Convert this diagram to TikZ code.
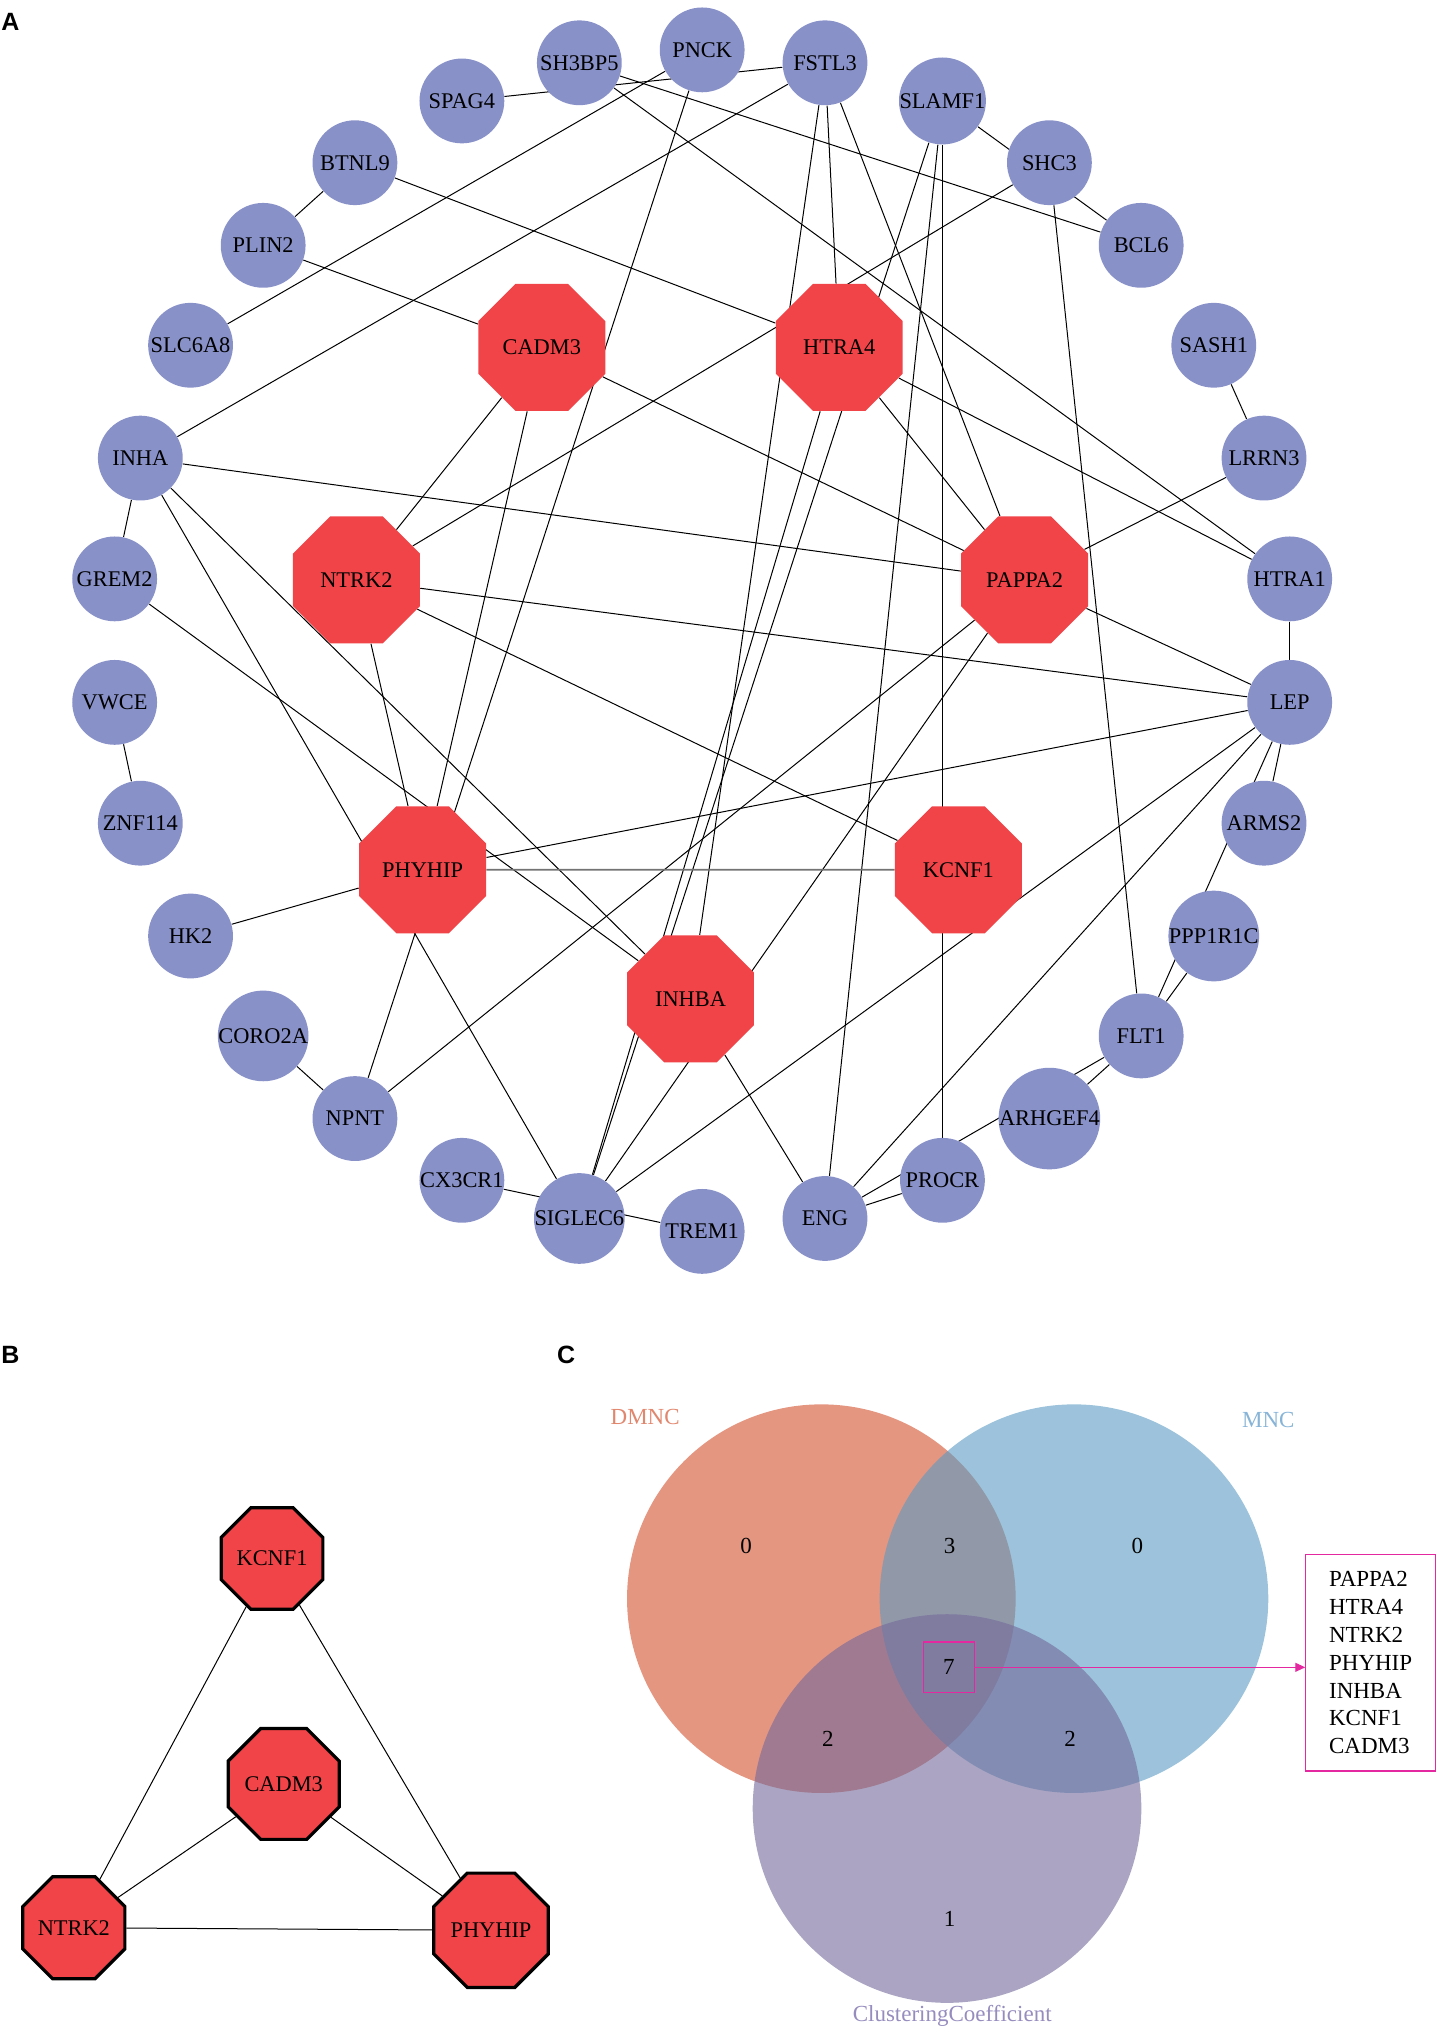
\documentclass[tikz,border=0pt]{standalone}
\usepackage{fontspec}
\setmainfont{Liberation Serif}
\newfontfamily\panelfont{Liberation Sans}
\usetikzlibrary{shapes.geometric,backgrounds,arrows.meta}
\definecolor{nodeblue}{RGB}{136,145,200}
\definecolor{hubred}{RGB}{240,68,72}
\definecolor{vmag}{RGB}{228,40,160}
\definecolor{dmncfill}{RGB}{210,80,45}
\definecolor{mncfill}{RGB}{90,155,195}
\definecolor{ccfill}{RGB}{115,105,155}
\definecolor{dmnctext}{RGB}{225,135,110}
\definecolor{mnctext}{RGB}{135,180,215}
\definecolor{cctext}{RGB}{150,140,190}
\tikzset{
  gene/.style={circle,fill=nodeblue,inner sep=0pt,minimum size=42.4pt,font=\fontsize{11.2}{12}\selectfont},
  hub/.style={regular polygon,regular polygon sides=8,fill=hubred,inner sep=0pt,minimum size=68.7pt,font=\fontsize{11.2}{12}\selectfont},
  hubb/.style={regular polygon,regular polygon sides=8,fill=hubred,draw=black,line width=1.6pt,inner sep=0pt,minimum size=55pt,font=\fontsize{11.2}{12}\selectfont},
  edge/.style={draw=black,line width=0.5pt},
  grayedge/.style={draw=black!55,line width=0.9pt},
  panel/.style={font=\panelfont\bfseries\fontsize{12.5}{14}\selectfont,anchor=center},
  vnum/.style={font=\fontsize{11.5}{13}\selectfont},
  vset/.style={circle,minimum size=194.3pt,inner sep=0pt,fill opacity=0.6},
}
\begin{document}
\begin{tikzpicture}[x=0.6477pt,y=-0.6477pt]
\useasboundingbox (0,0) rectangle (1110,1568.5);
% ---------- Panel A ----------
\node[panel] (labA) at (8,17) {A};
\foreach \n [count=\k from 0] in {PNCK,FSTL3,SLAMF1,SHC3,BCL6,SASH1,LRRN3,HTRA1,LEP,ARMS2,PPP1R1C,FLT1,ARHGEF4,PROCR,ENG,TREM1,SIGLEC6,CX3CR1,NPNT,CORO2A,HK2,ZNF114,VWCE,GREM2,INHA,SLC6A8,PLIN2,BTNL9,SPAG4,SH3BP5}
  \node[gene] (\n) at ({542+456*sin(12*\k)},{494.5-456*cos(12*\k)}) {\n};
\node[hub] (CADM3) at (418.2,268.2) {CADM3};
\node[hub] (HTRA4) at (647.8,268.2) {HTRA4};
\node[hub] (NTRK2) at (275.1,447.6) {NTRK2};
\node[hub] (PAPPA2) at (790.9,447.6) {PAPPA2};
\node[hub] (PHYHIP) at (326.2,671.4) {PHYHIP};
\node[hub] (KCNF1) at (739.8,671.4) {KCNF1};
\node[hub] (INHBA) at (533,771) {INHBA};
\begin{pgfonlayer}{background}
\foreach \a/\b in {SPAG4/FSTL3,SH3BP5/BCL6,SH3BP5/HTRA1,PNCK/SLC6A8,NPNT/PNCK,
  FSTL3/INHA,FSTL3/HTRA4,FSTL3/INHBA,FSTL3/PAPPA2,SLAMF1/BCL6,SLAMF1/PROCR,
  SLAMF1/SIGLEC6,SLAMF1/ENG,SHC3/NTRK2,SHC3/FLT1,PLIN2/BTNL9,PLIN2/CADM3,
  BTNL9/HTRA4,SASH1/LRRN3,LRRN3/PAPPA2,HTRA1/LEP,HTRA1/HTRA4,LEP/ARMS2,
  LEP/FLT1,LEP/ENG,LEP/SIGLEC6,LEP/NTRK2,LEP/PHYHIP,LEP/PAPPA2,PPP1R1C/FLT1,
  FLT1/ARHGEF4,ENG/FLT1,ENG/PROCR,INHBA/ENG,CX3CR1/TREM1,INHA/SIGLEC6,
  INHA/INHBA,INHA/GREM2,INHA/PAPPA2,GREM2/INHBA,VWCE/ZNF114,HK2/PHYHIP,
  CORO2A/NPNT,NPNT/PAPPA2,HTRA4/SIGLEC6,HTRA4/PAPPA2,CADM3/PAPPA2,
  CADM3/NTRK2,CADM3/PHYHIP,NTRK2/PHYHIP,NTRK2/KCNF1,SIGLEC6/PAPPA2}
  \draw[edge] (\a) -- (\b);
\draw[grayedge] (PHYHIP) -- (KCNF1);
\end{pgfonlayer}
% ---------- Panel B ----------
\node[panel] (labB) at (8,1046) {B};
\node[hubb] (bK) at (210,1203) {KCNF1};
\node[hubb] (bC) at (219,1377) {CADM3};
\node[hubb] (bN) at (57,1488) {NTRK2};
\node[hubb] (bP) at (379,1490) {PHYHIP};
\begin{pgfonlayer}{background}
\foreach \a/\b in {bK/bN,bK/bP,bC/bN,bC/bP,bN/bP}
  \draw[edge] (\a) -- (\b);
\end{pgfonlayer}
% ---------- Panel C ----------
\node[panel] (labC) at (437,1046) {C};
\node[vset,fill=dmncfill] (dmnc) at (634,1234) {};
\node[vset,fill=mncfill] (mnc) at (829,1234) {};
\node[vset,fill=ccfill] (cc) at (731,1396) {};
\node[vnum,text=dmnctext] (ldmnc) at (498,1094) {DMNC};
\node[vnum,text=mnctext] (lmnc) at (979,1096) {MNC};
\node[vnum,text=cctext] (lcc) at (735,1556) {ClusteringCoefficient};
\node[vnum] (n1) at (576,1193) {0};
\node[vnum] (n2) at (733,1193) {3};
\node[vnum] (n3) at (878,1193) {0};
\node[vnum] (n4) at (639,1342) {2};
\node[vnum] (n5) at (826,1342) {2};
\node[vnum] (n6) at (733,1481) {1};
\node[vnum,draw=vmag,line width=0.6pt,minimum size=25.3pt,inner sep=0pt] (seven) at (732.5,1287) {7};
\node[draw=vmag,line width=0.6pt,minimum width=64.8pt,minimum height=108.2pt,align=left,
  font=\fontsize{11.5}{13.9}\selectfont] (list) at (1058,1283.5)
  {PAPPA2\\HTRA4\\NTRK2\\PHYHIP\\INHBA\\KCNF1\\CADM3};
\draw[vmag,line width=0.6pt,-{Triangle[length=5pt,width=4.5pt]}] (seven.east) -- (seven.east -| list.west);
\end{tikzpicture}
\end{document}
